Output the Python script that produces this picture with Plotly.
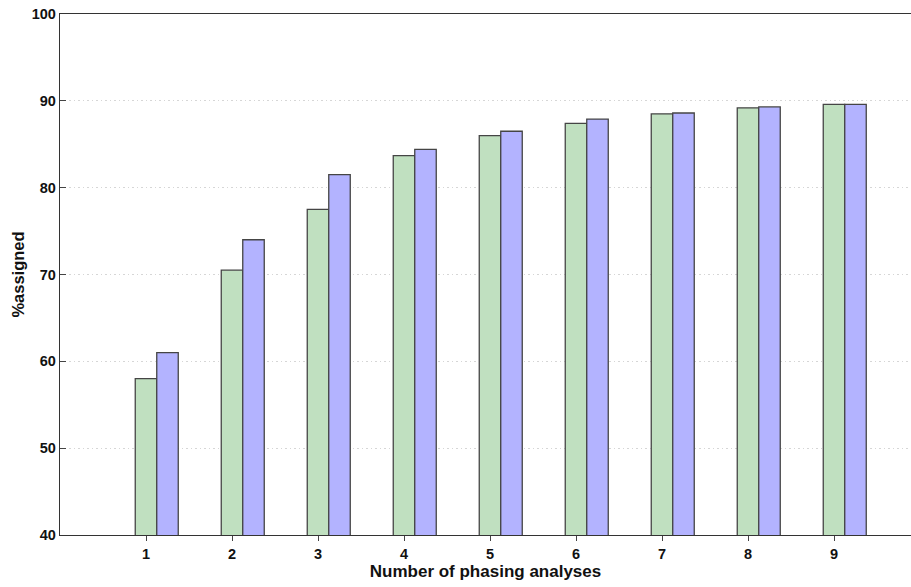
import plotly.graph_objects as go

# Number of phasing analyses and the share of assignments reached after each
analyses = [1, 2, 3, 4, 5, 6, 7, 8, 9]
assigned_a = [58.0, 70.5, 77.5, 83.7, 86.0, 87.4, 88.5, 89.2, 89.6]
assigned_b = [61.0, 74.0, 81.5, 84.4, 86.5, 87.9, 88.6, 89.3, 89.6]
y_ticks = [40, 50, 60, 70, 80, 90, 100]

W, H = 911, 587
L, T, B = 60, 14, 52
bar_w = 0.25

fig = go.Figure()
fig.add_trace(go.Bar(
    x=analyses, y=assigned_a, width=bar_w, offset=-bar_w / 2,
    marker=dict(color="#c0e0c0", line=dict(color="#454545", width=1.3)),
    showlegend=False,
))
fig.add_trace(go.Bar(
    x=analyses, y=assigned_b, width=bar_w, offset=bar_w / 2,
    marker=dict(color="#b3b3ff", line=dict(color="#454545", width=1.3)),
    showlegend=False,
))

font = dict(family="Liberation Sans, Arial, sans-serif", color="#111111")
x_max = (W - L) / 86.0

fig.update_layout(
    width=W, height=H,
    margin=dict(l=L, r=0, t=T, b=B),
    paper_bgcolor="white", plot_bgcolor="white",
    barmode="overlay",
    font=font,
    xaxis=dict(
        range=[0, x_max],
        tickmode="array", tickvals=analyses,
        ticktext=[f"<b>{v}</b>" for v in analyses],
        tickfont=dict(size=14.5),
        ticks="outside", ticklen=5, tickcolor="#444", tickwidth=1,
        showline=True, linecolor="#333", linewidth=1.4, mirror=True,
        showgrid=False, zeroline=False,
        title=dict(text="<b>Number of phasing analyses</b>", font=dict(size=17), standoff=3),
    ),
    yaxis=dict(
        range=[40, 100],
        tickmode="array", tickvals=y_ticks,
        ticktext=[f"<b>{v}</b>" for v in y_ticks],
        tickfont=dict(size=14.5),
        ticks="inside", ticklen=6, tickcolor="#444", tickwidth=1,
        showline=True, linecolor="#333", linewidth=1.4,
        showgrid=True, gridcolor="#d6d6d6", griddash="1.5px,3px", gridwidth=1,
        zeroline=False,
        title=dict(text="<b>%assigned</b>", font=dict(size=16.5), standoff=2),
    ),
)

fig.write_html("out.html")
